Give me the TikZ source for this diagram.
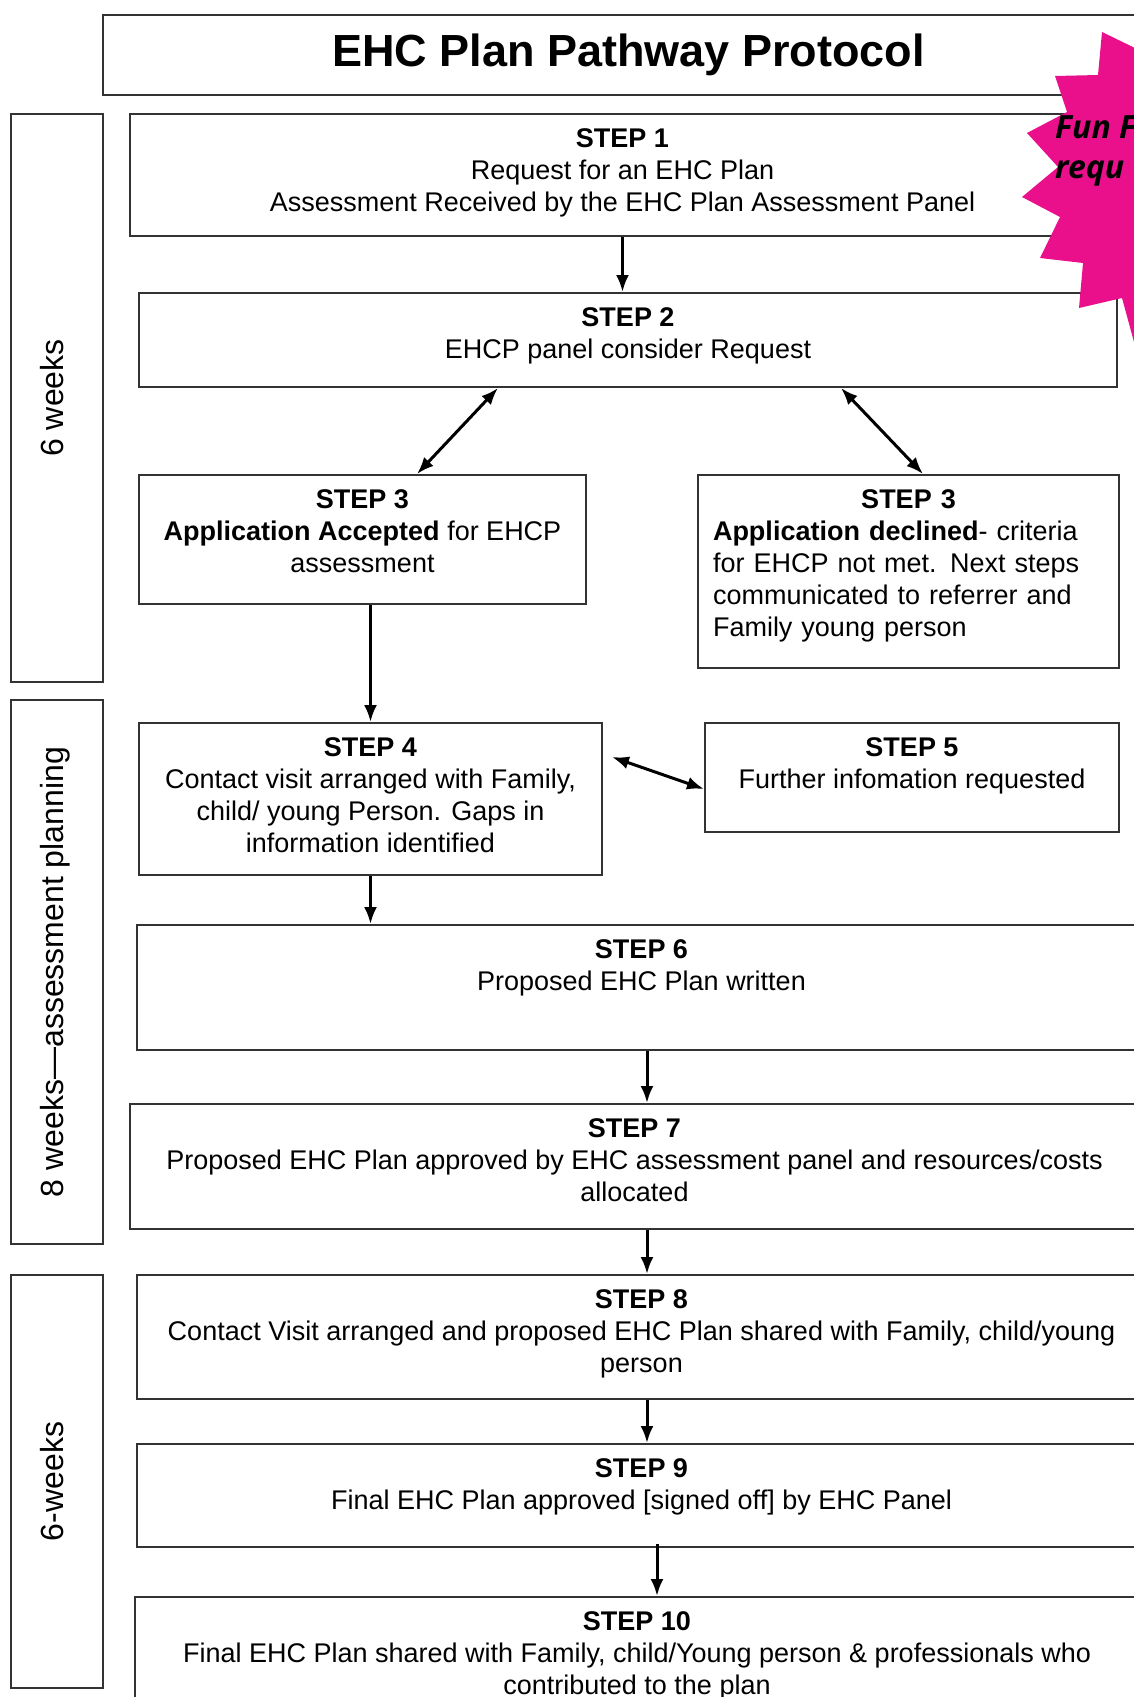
\documentclass[tikz,border=0pt]{standalone}
\usepackage{fontspec}
\setmainfont{Liberation Sans}
\newfontfamily\funfont{Open Sans}
\usetikzlibrary{arrows.meta,positioning}
\definecolor{burstpink}{RGB}{234,16,140}
\tikzset{
         box/.style={draw=black!80,line width=2pt,inner sep=0pt},
         steptext/.style={align=center,inner sep=0pt,font=\fontsize{27}{32}\selectfont},
         sidetext/.style={rotate=90,anchor=base,inner sep=0pt,font=\fontsize{32}{38}\selectfont},
         flow/.style={line width=3pt,-{Latex[length=17pt,width=13pt]}},
         twoway/.style={line width=3pt,{Latex[length=17pt,width=13pt]}-{Latex[length=17pt,width=13pt]}}
        }
\begin{document}
\begin{tikzpicture}[x=1pt,y=-1pt]
      \useasboundingbox(0,0)rectangle(1134,1697);
      \clip(0,0)rectangle(1134,1697);
      \fill[white](0,0)rectangle(1134,1697); %page
      \node[box,minimum width=1051pt,minimum height=80pt,font=\fontsize{45}{54}\selectfont\bfseries] (title) at (628.5,55){EHC Plan Pathway Protocol};
      %time columns
      \node[box,minimum width=92pt,minimum height=568pt] (w1) at (57,398){};
      \node[box,minimum width=92pt,minimum height=544pt] (w2) at (57,972){};
      \node[box,minimum width=92pt,minimum height=413pt] (w3) at (57,1481.5){};
      \node[sidetext] (l1) at ([xshift=6pt]w1.center){6 weeks};
      \node[sidetext] (l2) at ([xshift=6pt]w2.center){8 weeks---assessment planning};
      \node[sidetext] (l3) at ([xshift=6pt]w3.center){6-weeks};
      %step boxes
      \node[box,minimum width=985pt,minimum height=122pt] (s1) at (622.5,175){};
      \node[box,minimum width=978pt,minimum height=94pt] (s2) at (628,340){};
      \node[box,minimum width=447pt,minimum height=129pt] (s3a) at (362.5,539.5){}; %accepted
      \node[box,minimum width=421pt,minimum height=193pt] (s3b) at (908.5,571.5){}; %declined
      \node[box,minimum width=463pt,minimum height=152pt] (s4) at (370.5,799){};
      \node[box,minimum width=414pt,minimum height=109pt] (s5) at (912,777.5){};
      \node[box,minimum width=1009pt,minimum height=125pt] (s6) at (641.5,987.5){};
      \node[box,minimum width=1009pt,minimum height=125pt] (s7) at (634.5,1166.5){};
      \node[box,minimum width=1009pt,minimum height=124pt] (s8) at (641.5,1337){};
      \node[box,minimum width=1009pt,minimum height=103pt] (s9) at (641.5,1495.5){};
      \node[box,minimum width=1004pt,minimum height=123pt] (s10) at (637,1658.5){};
      %step texts
      \node[steptext,below=15pt of s1.north] (t1){\textbf{STEP 1}\\Request for an EHC Plan\\Assessment Received by the EHC Plan Assessment Panel};
      \node[steptext,below=15pt of s2.north] (t2){\textbf{STEP 2}\\EHCP panel consider Request};
      \node[steptext,below=15pt of s3a.north] (t3a){\textbf{STEP 3}\\\textbf{Application Accepted} for EHCP\\assessment};
      \node[steptext,align=left,text width=391pt,below=15pt of s3b.north] (t3b){{\centering\textbf{STEP 3}\par}\textbf{Application declined}- criteria\\for EHCP not met. Next steps\\communicated to referrer and\\Family young person};
      \node[steptext,below=15pt of s4.north] (t4){\textbf{STEP 4}\\Contact visit arranged with Family,\\child/ young Person. Gaps in\\information identified};
      \node[steptext,below=15pt of s5.north] (t5){\textbf{STEP 5}\\Further infomation requested};
      \node[steptext,below=15pt of s6.north] (t6){\textbf{STEP 6}\\Proposed EHC Plan written};
      \node[steptext,below=15pt of s7.north] (t7){\textbf{STEP 7}\\Proposed EHC Plan approved by EHC assessment panel and resources/costs\\allocated};
      \node[steptext,below=15pt of s8.north] (t8){\textbf{STEP 8}\\Contact Visit arranged and proposed EHC Plan shared with Family, child/young\\person};
      \node[steptext,below=15pt of s9.north] (t9){\textbf{STEP 9}\\Final EHC Plan approved [signed off] by EHC Panel};
      \node[steptext,below=15pt of s10.north] (t10){\textbf{STEP 10}\\Final EHC Plan shared with Family, child/Young person \& professionals who\\contributed to the plan};
      %arrows
      \draw[flow](s1.south)--(s1.south |- s2.north);
      \draw[twoway]([xshift=360pt]s2.south west)--([xshift=279pt]s3a.north west);
      \draw[twoway]([xshift=703pt]s2.south west)--([xshift=226pt]s3b.north west);
      \draw[flow](s3a.south -| s4.north)--(s4.north);
      \draw[twoway]([xshift=9pt,yshift=-35pt]s4.north east)--([yshift=-67pt]s5.north west);
      \draw[flow](s4.south)--(s4.south |- s6.north);
      \draw[flow]([xshift=5.5pt]s6.south)--([xshift=5.5pt]s6.south |- s7.north);
      \draw[flow]([xshift=12.5pt]s7.south)--([xshift=12.5pt]s7.south |- s8.north);
      \draw[flow]([xshift=5.5pt]s8.south)--([xshift=5.5pt]s8.south |- s9.north);
      \draw[flow]([xshift=15.5pt,yshift=4pt]s9.south)--([xshift=15.5pt]s9.south |- s10.north);
      %pink burst
      \fill[burstpink](1250,20)--(1135,48)--(1102,32)--(1098,75)--(1055,76)--(1067,112)--(1027,133)--(1058,167)
      --(1022,197)--(1060,217)--(1040,258)--(1083,263)--(1079,308)--(1122,298)--(1134,342)--(1250,360)--cycle;
      \node[anchor=north west,align=left,inner sep=0pt,font=\funfont\fontsize{32}{40}\selectfont\bfseries\itshape] (fun) at (1055,115){Fun F\\requ};
\end{tikzpicture}
\end{document}
